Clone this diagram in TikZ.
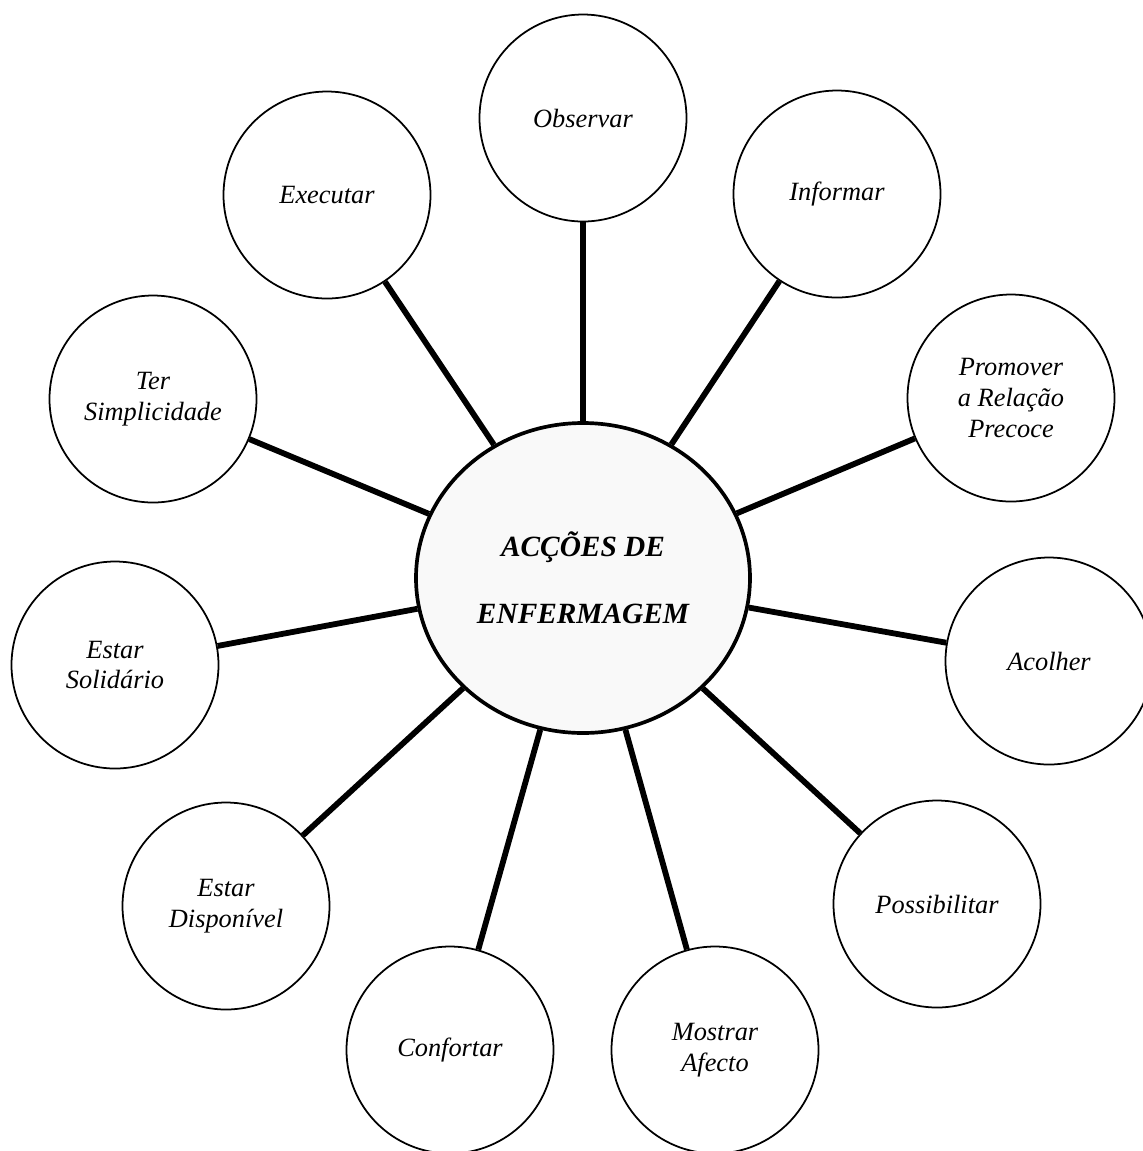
\documentclass[tikz,border=0pt]{standalone}
\usepackage{fontspec}
\setmainfont{Liberation Serif}
\usepackage{tikz}
\usepackage{xcolor}
\usetikzlibrary{shapes.geometric}

\begin{document}
\begin{tikzpicture}[
    acao/.style={draw, circle, line width=1pt, minimum size=4.14cm, inner sep=0pt, align=center, font=\fontsize{15}{17.6}\selectfont\itshape},
    nucleo/.style={draw, ellipse, line width=2.1pt, fill=gray!5, minimum width=6.68cm, minimum height=6.2cm, align=center, font=\fontsize{16.7}{38}\selectfont\bfseries\itshape},
    liga/.style={line width=3.3pt}
]
\useasboundingbox (0,0) rectangle (22.86,-23.02);
% Centre
\node[nucleo] (enf) at (11.66,-11.56) {ACÇÕES DE\\ENFERMAGEM};
% Top
\node[acao] (obs) at (11.66,-2.36) {Observar};
\node[acao] (exe) at (6.54,-3.90) {Executar};
\node[acao] (inf) at (16.74,-3.88) {Informar};
% Right side
\node[acao] (pro) at (20.22,-7.96) {Promover\\a Relação\\Precoce};
\node[acao] (aco) at (20.98,-13.22) {Acolher};
\node[acao] (pos) at (18.74,-18.08) {Possibilitar};
% Bottom
\node[acao] (mos) at (14.30,-21.00) {Mostrar\\Afecto};
\node[acao] (con) at (9.00,-21.00) {Confortar};
% Left side
\node[acao] (dis) at (4.52,-18.12) {Estar\\Disponível};
\node[acao] (sol) at (2.30,-13.30) {Estar\\Solidário};
\node[acao] (ter) at (3.06,-7.98) {Ter\\Simplicidade};

\draw[liga] (enf) -- (obs);
\draw[liga] (enf) -- (exe);
\draw[liga] (enf) -- (inf);
\draw[liga] (enf) -- (pro);
\draw[liga] (enf) -- (aco);
\draw[liga] (enf) -- (pos);
\draw[liga] (enf) -- (mos);
\draw[liga] (enf) -- (con);
\draw[liga] (enf) -- (dis);
\draw[liga] (enf) -- (sol);
\draw[liga] (enf) -- (ter);
\end{tikzpicture}
\end{document}
